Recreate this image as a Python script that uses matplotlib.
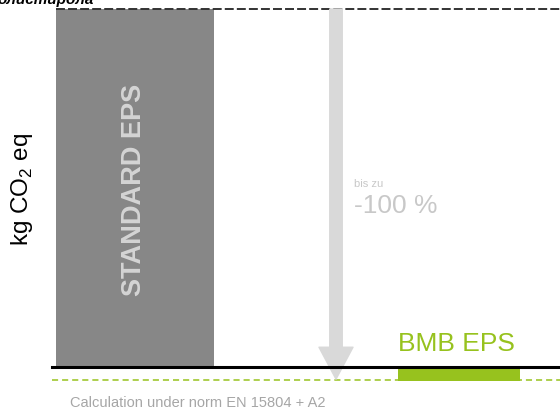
import matplotlib
matplotlib.use("Agg")
import matplotlib.pyplot as plt

plt.rcParams["font.family"] = ["Liberation Sans", "DejaVu Sans"]
plt.rcParams["mathtext.fontset"] = "custom"
plt.rcParams["mathtext.rm"] = "Liberation Sans"

# data
categories = ["STANDARD EPS", "BMB EPS"]
values = [100.0, -3.9]
reduction_label = "-100 %"
y_label = "kg CO$_2$ eq"
note = "Calculation under norm EN 15804 + A2"
title_fragment = "олистирола"

GREY_BAR = "#878787"
GREEN = "#97c21e"
ARROW = "#d9d9d9"
LIGHT_TXT = "#c8c8c8"

W, H = 560, 410
fig = plt.figure(figsize=(W / 100, H / 100), dpi=100)
ax = fig.add_axes([0, 0, 1, 1])
# x in pixels, y in value units (baseline at pixel row 368, 100 at row 10)
ppu = (368 - 10) / 100.0
ax.set_xlim(0, W)
ax.set_ylim(-(H - 368) / ppu, 368 / ppu)
ax.axis("off")

x_pos = [135, 459]
widths = [158, 122]
colors = [GREY_BAR, GREEN]
ax.bar(x_pos, values, width=widths, color=colors, zorder=2)

# reference lines
ax.plot([56, W], [values[0], values[0]], color="#333333", lw=1.4,
        linestyle=(0, (4.6, 1.6)), zorder=3)
ax.axhline(0, xmin=52 / W, xmax=1, color="black", lw=2.2, zorder=4)
ax.plot([52, W], [-3.6, -3.6], color=GREEN, lw=1.1,
        linestyle=(0, (4.0, 2.6)), zorder=1)

# reduction arrow
ax.annotate("", xy=(336, -3.4), xytext=(336, 100),
            arrowprops=dict(arrowstyle="simple,head_width=2.45,head_length=2.3,tail_width=0.9",
                            color=ARROW, shrinkA=0, shrinkB=0, mutation_scale=10),
            zorder=3)

# labels
fig.text(134 / W, 1 - 190 / H, categories[0], rotation=90, ha="center", va="center",
         fontsize=19.5, fontweight="bold", color="#d4d4d4")
fig.text(398 / W, 1 - 351 / H, categories[1], ha="left", va="baseline",
         fontsize=19, color=GREEN)
fig.text(354 / W, 1 - 187 / H, "bis zu", ha="left", va="baseline",
         fontsize=8, color=LIGHT_TXT)
fig.text(354 / W, 1 - 213 / H, reduction_label, ha="left", va="baseline",
         fontsize=19, color=LIGHT_TXT)
fig.text(22 / W, 1 - 189 / H, y_label, rotation=90, ha="center", va="center",
         fontsize=17.5, color="black")
fig.text(70 / W, 1 - 407 / H, note, ha="left", va="baseline",
         fontsize=10.5, color="#a6a6a6")
fig.text(-2 / W, 1 - 4 / H, title_fragment, ha="left", va="baseline",
         fontsize=11, fontweight="bold", fontstyle="italic", color="black")

fig.savefig("out.png", dpi=100, facecolor="white")
